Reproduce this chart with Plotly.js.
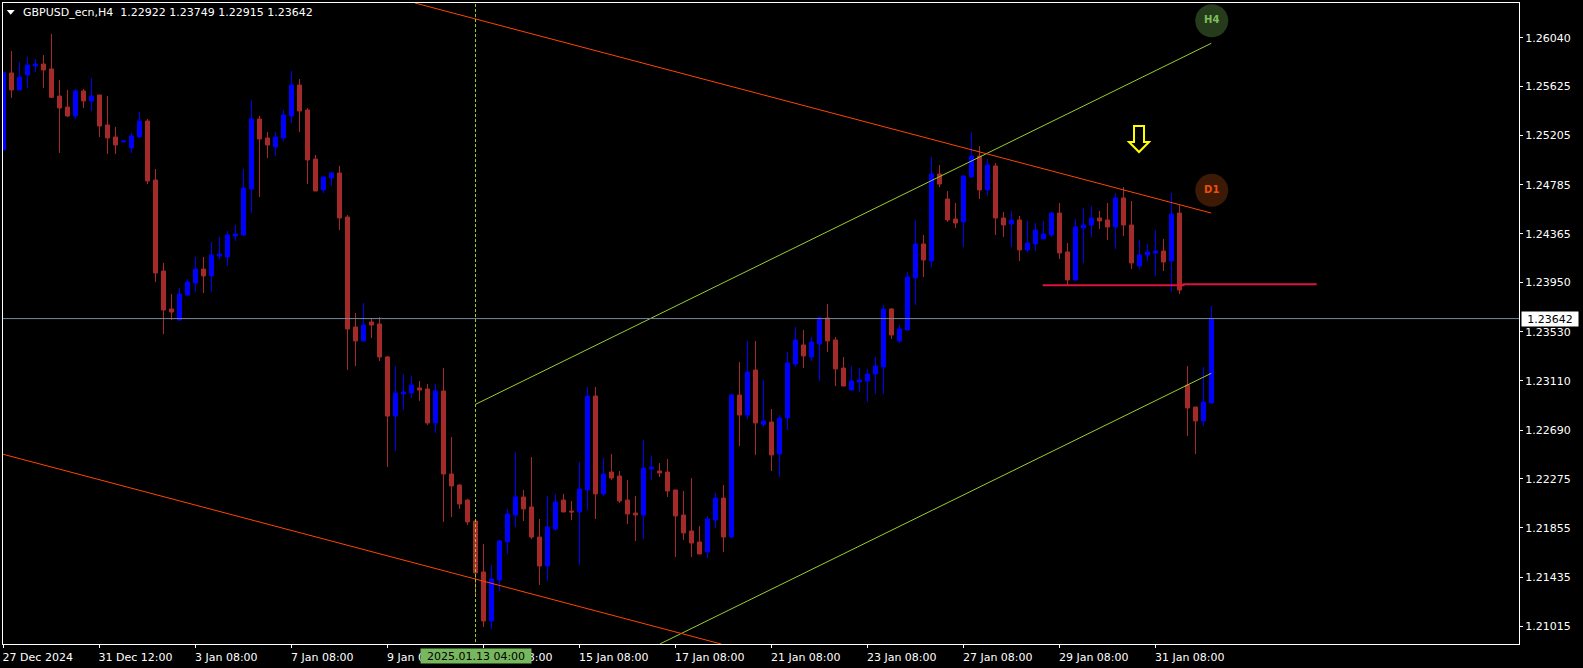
<!DOCTYPE html>
<html>
<head>
<meta charset="utf-8">
<script src="https://cdn.plot.ly/plotly-3.0.1.min.js"></script>
<style>html,body{margin:0;padding:0;background:#000;overflow:hidden}#chart{width:1583px;height:668px}</style>
</head>
<body>
<div id="chart"></div>
<script>
var symbolTitle = 'GBPUSD_ecn,H4\u00a0\u00a01.22922 1.23749 1.22915 1.23642';

var open = [
1.25081,1.25739,1.25594,1.25722,1.25798,1.25815,1.25773,1.25542,1.25448,1.25372,1.25585,1.25500,
1.25551,1.25295,1.25192,1.25150,1.25098,1.25192,1.25329,1.24825,1.24048,1.23724,1.23630,1.23843,
1.23946,1.24065,1.24006,1.24176,1.24168,1.24347,1.24356,1.24748,1.25346,1.25184,1.25107,1.25184,
1.25372,1.25636,1.25423,1.25004,1.24740,1.24842,1.24885,1.24509,1.23570,1.23451,1.23613,1.23596,
1.23314,1.22810,1.22998,1.23007,1.23050,1.23041,1.22751,1.23024,1.22315,1.22221,1.22093,1.21914,
1.21479,1.21060,1.21410,1.21735,1.21965,1.22119,1.22034,1.21777,1.21530,1.21846,1.22093,1.21999,
1.21991,1.22179,1.22981,1.22145,1.22332,1.22298,1.22093,1.21982,1.21965,1.22358,1.22341,1.22332,
1.22179,1.21965,1.21829,1.21735,1.21649,1.21923,1.22110,1.21777,1.22990,1.22819,1.23203,1.22739,
1.22759,1.22486,1.22793,1.23254,1.23417,1.23314,1.23425,1.23647,1.23459,1.23220,1.23032,1.23101,
1.23109,1.23169,1.23229,1.23724,1.23451,1.23545,1.23989,1.24279,1.24134,1.24876,1.24663,1.24492,
1.24467,1.24851,1.25030,1.24740,1.24945,1.24501,1.24450,1.24484,1.24228,1.24279,1.24322,1.24356,
1.24543,1.24211,1.23972,1.24415,1.24441,1.24501,1.24484,1.24424,1.24672,1.24441,1.24091,1.24185,
1.24202,1.24219,1.24134,1.24543,1.23075,1.22887,1.22768,1.22922];

var high = [
1.25741,1.25926,1.25832,1.25875,1.25858,1.25892,1.26072,1.25679,1.25594,1.25602,1.25602,1.25696,
1.25551,1.25542,1.25278,1.25158,1.25226,1.25406,1.25346,1.24919,1.24117,1.23852,1.23903,1.23980,
1.24168,1.24168,1.24296,1.24339,1.24390,1.24441,1.24919,1.25508,1.25372,1.25235,1.25235,1.25423,
1.25756,1.25687,1.25440,1.25039,1.24851,1.24893,1.24945,1.24526,1.23690,1.23775,1.23647,1.23656,
1.23323,1.23237,1.23169,1.23152,1.23109,1.23084,1.23084,1.23220,1.22631,1.22230,1.22103,1.21914,
1.21718,1.21538,1.21752,1.22017,1.22503,1.22179,1.22460,1.21931,1.22128,1.22145,1.22145,1.22085,
1.22418,1.23058,1.23058,1.22452,1.22486,1.22341,1.22264,1.22128,1.22606,1.22469,1.22409,1.22443,
1.22179,1.22170,1.22281,1.21871,1.21957,1.22153,1.22221,1.22998,1.23271,1.23451,1.23451,1.23118,
1.22870,1.22819,1.23357,1.23570,1.23545,1.23485,1.23656,1.23767,1.23485,1.23314,1.23237,1.23220,
1.23212,1.23314,1.23758,1.23732,1.23587,1.24040,1.24484,1.24356,1.25022,1.24953,1.24731,1.24629,
1.24868,1.25235,1.25115,1.25004,1.24970,1.24552,1.24561,1.24518,1.24475,1.24458,1.24475,1.24552,
1.24629,1.24287,1.24492,1.24586,1.24603,1.24561,1.24629,1.24714,1.24765,1.24646,1.24313,1.24279,
1.24398,1.24322,1.24714,1.24612,1.23237,1.22887,1.23229,1.23749];

var low = [
1.25081,1.25525,1.25594,1.25611,1.25747,1.25611,1.25525,1.25056,1.25363,1.25346,1.25440,1.25414,
1.25192,1.25047,1.25047,1.25150,1.25056,1.25192,1.24791,1.23954,1.23510,1.23630,1.23621,1.23835,
1.23869,1.23860,1.23869,1.24151,1.24091,1.24304,1.24347,1.24543,1.24680,1.25013,1.25030,1.25158,
1.25312,1.25235,1.24791,1.24731,1.24714,1.24774,1.24398,1.23203,1.23237,1.23451,1.23476,1.23280,
1.22375,1.22512,1.22862,1.22964,1.22939,1.22734,1.22665,1.21906,1.21948,1.22017,1.21880,1.21282,
1.21009,1.20992,1.21316,1.21632,1.21863,1.21914,1.21760,1.21368,1.21402,1.21829,1.21991,1.21923,
1.21538,1.22008,1.21931,1.22128,1.22264,1.22068,1.21888,1.21743,1.21760,1.22264,1.22290,1.22119,
1.21607,1.21752,1.21607,1.21632,1.21598,1.21854,1.21649,1.21777,1.22554,1.22785,1.22478,1.22717,
1.22341,1.22290,1.22691,1.23229,1.23220,1.23280,1.23109,1.23357,1.23066,1.23066,1.23032,1.23015,
1.22930,1.22998,1.22998,1.23468,1.23434,1.23536,1.23758,1.23997,1.24082,1.24765,1.24467,1.24415,
1.24253,1.24851,1.24663,1.24689,1.24356,1.24339,1.24253,1.24134,1.24211,1.24219,1.24322,1.24339,
1.24151,1.23929,1.23963,1.24117,1.24339,1.24407,1.24313,1.24236,1.24347,1.24065,1.24065,1.24134,
1.24006,1.24048,1.23869,1.23852,1.22640,1.22486,1.22725,1.22915];

var close = [
1.25741,1.25594,1.25704,1.25807,1.25815,1.25764,1.25531,1.25440,1.25372,1.25585,1.25500,1.25542,
1.25286,1.25184,1.25124,1.25158,1.25201,1.25329,1.24817,1.24031,1.23715,1.23698,1.23852,1.23954,
1.24065,1.24006,1.24185,1.24193,1.24356,1.24364,1.24757,1.25346,1.25175,1.25124,1.25192,1.25380,
1.25636,1.25414,1.24996,1.24731,1.24851,1.24885,1.24501,1.23553,1.23451,1.23587,1.23587,1.23314,
1.22810,1.23007,1.23015,1.23075,1.23032,1.22751,1.23024,1.22315,1.22213,1.22059,1.21906,1.21470,
1.21060,1.21419,1.21743,1.21974,1.22119,1.22017,1.21777,1.21530,1.21863,1.22076,1.21991,1.21991,
1.22187,1.22981,1.22145,1.22315,1.22281,1.22085,1.21974,1.21965,1.22367,1.22375,1.22324,1.22170,
1.21957,1.21812,1.21726,1.21632,1.21931,1.22110,1.21777,1.22990,1.22819,1.23186,1.22751,1.22768,
1.22478,1.22793,1.23263,1.23459,1.23323,1.23442,1.23647,1.23451,1.23212,1.23066,1.23109,1.23118,
1.23169,1.23237,1.23724,1.23502,1.23553,1.23997,1.24279,1.24142,1.24876,1.24791,1.24484,1.24458,
1.24859,1.25030,1.24740,1.24953,1.24501,1.24441,1.24484,1.24228,1.24287,1.24398,1.24364,1.24543,
1.24202,1.23972,1.24424,1.24441,1.24501,1.24475,1.24424,1.24672,1.24441,1.24117,1.24185,1.24211,
1.24219,1.24125,1.24535,1.23886,1.22879,1.22768,1.22930,1.23642];

var barIndex = open.map(function(v,i){return i;});

var priceTicks = [1.21015,1.21435,1.21855,1.22275,1.22690,1.23110,1.23530,1.23950,1.24365,1.24785,1.25205,1.25625,1.26040];
var timeTickBars = [0,12,24,36,48,60,72,84,96,108,120,132,144];
var timeTickLabels = ['27 Dec 2024\u00a0','31 Dec 12:00','3 Jan 08:00\u00a0\u00a0\u00a0','7 Jan 08:00\u00a0\u00a0\u00a0','9 Jan 08:00\u00a0\u00a0\u00a0',
  '13 Jan 08:00\u00a0','15 Jan 08:00\u00a0','17 Jan 08:00\u00a0','21 Jan 08:00\u00a0','23 Jan 08:00\u00a0',
  '27 Jan 08:00\u00a0','29 Jan 08:00\u00a0','31 Jan 08:00\u00a0'];

var currentPrice = 1.23642;
var crosshairBar = 59;
var crosshairLabel = '2025.01.13 04:00';

var d1UpperX = [51.44,150.97],  d1UpperY = [1.26336,1.24543];
var d1LowerX = [-0.06,89.7],    d1LowerY = [1.22484,1.20864];
var h4UpperX = [59,150.97],     h4UpperY = [1.22910,1.25992];
var h4LowerX = [82.04,150.97],  h4LowerY = [1.20864,1.23175];
var supportX = [129.9,147.5,147.5,164.15], supportY = [1.23926,1.23926,1.23935,1.23935];

var badgeBars = [151.03,151.03], badgePrices = [1.26185,1.24737], badgeText = ['H4','D1'];
var arrowBar = 141.94, arrowPrice = 1.25175;

var COL_UP='#0000ff', COL_DOWN='#a52a2a', GREEN='#9acd32', ORANGE='#ff4500', RED='#dc143c', GRID='#778899';
var FONT='DejaVu Sans';

function lineTrace(x,y,color,width){
  return {type:'scatter',mode:'lines',x:x,y:y,line:{color:color,width:width},hoverinfo:'skip',showlegend:false};
}

var traces = [
  {type:'candlestick',x:barIndex,open:open,high:high,low:low,close:close,
   increasing:{line:{color:COL_UP,width:1},fillcolor:COL_UP},
   decreasing:{line:{color:COL_DOWN,width:1},fillcolor:COL_DOWN},
   whiskerwidth:0,showlegend:false,hoverinfo:'skip'},
  lineTrace(h4UpperX,h4UpperY,GREEN,1),
  lineTrace(h4LowerX,h4LowerY,GREEN,1),
  lineTrace(d1UpperX,d1UpperY,ORANGE,1),
  lineTrace(d1LowerX,d1LowerY,ORANGE,1),
  lineTrace(supportX,supportY,RED,2),
  {type:'scatter',mode:'markers+text',x:badgeBars,y:badgePrices,text:badgeText,textposition:'middle center',
   marker:{size:33,color:['#263a1c','#3c1a06'],line:{width:0}},
   textfont:{family:FONT,size:10,weight:'bold',color:['#7cc05a','#ee4e0c']},
   hoverinfo:'skip',showlegend:false,cliponaxis:false}
];

var layout = {
  width:1583,height:668,
  margin:{l:3,r:64,t:3,b:24,pad:0},
  paper_bgcolor:'#000',plot_bgcolor:'#000',
  font:{family:FONT,size:11,color:'#fff'},
  showlegend:false,boxgap:0.5,boxgroupgap:0,
  xaxis:{type:'linear',range:[-0.0625,189.4375],fixedrange:true,rangeslider:{visible:false},
    showgrid:false,zeroline:false,showline:true,linecolor:'#fff',linewidth:1,mirror:true,
    ticks:'outside',ticklen:3,tickcolor:'#fff',tickwidth:1,tickmode:'array',
    tickvals:timeTickBars,ticktext:timeTickLabels,tickangle:0,ticklabelshift:36,
    tickfont:{family:FONT,size:11,color:'#fff'}},
  yaxis:{type:'linear',side:'right',range:[1.208640,1.263362],fixedrange:true,
    showgrid:false,zeroline:false,showline:true,linecolor:'#fff',linewidth:1,mirror:true,
    ticks:'outside',ticklen:3,tickcolor:'#fff',tickwidth:1,tickmode:'array',
    tickvals:priceTicks,tickformat:'.5f',
    tickfont:{family:FONT,size:11,color:'#fff'}},
  shapes:[
    {type:'line',xref:'paper',x0:0,x1:1,yref:'y',y0:currentPrice,y1:currentPrice,line:{color:GRID,width:1},layer:'above'},
    {type:'line',xref:'x',x0:crosshairBar,x1:crosshairBar,yref:'paper',y0:0.003,y1:1,line:{color:GREEN,width:1,dash:'3px,2px'},layer:'above'},
    {type:'path',xref:'x',yref:'y',xsizemode:'pixel',ysizemode:'pixel',xanchor:arrowBar,yanchor:arrowPrice,
     path:'M -5 13 L 5 13 L 5 -3 L 10 -3 L 0 -13 L -10 -3 L -5 -3 Z',
     line:{color:'#ffff00',width:2},fillcolor:'#000',layer:'above'},
    {type:'path',xref:'paper',yref:'paper',xsizemode:'pixel',ysizemode:'pixel',xanchor:0,yanchor:1,
     path:'M 3.7 -7 L 11.7 -7 L 7.7 -11.7 Z',line:{color:'#fff',width:0},fillcolor:'#fff',layer:'above'}
  ],
  annotations:[
    {xref:'paper',yref:'paper',x:18/1516,y:1-10/641,xanchor:'left',yanchor:'middle',showarrow:false,
     text:symbolTitle,font:{family:FONT,size:11,color:'#fff'}},
    {xref:'paper',yref:'y',x:1518/1516,y:currentPrice,xanchor:'left',yanchor:'middle',showarrow:false,
     text:'1.23642',width:56,height:14,bgcolor:'#fff',borderpad:0,align:'center',font:{family:FONT,size:11,color:'#000'}},
    {xref:'x',yref:'paper',x:crosshairBar,y:-11.5/641,xanchor:'center',yanchor:'middle',showarrow:false,
     text:crosshairLabel,width:110,height:14,bgcolor:'#77b85e',borderpad:0,align:'center',font:{family:FONT,size:11,color:'#000'}}
  ]
};

Plotly.newPlot('chart',traces,layout,{displayModeBar:false,staticPlot:true});
</script>
</body>
</html>
